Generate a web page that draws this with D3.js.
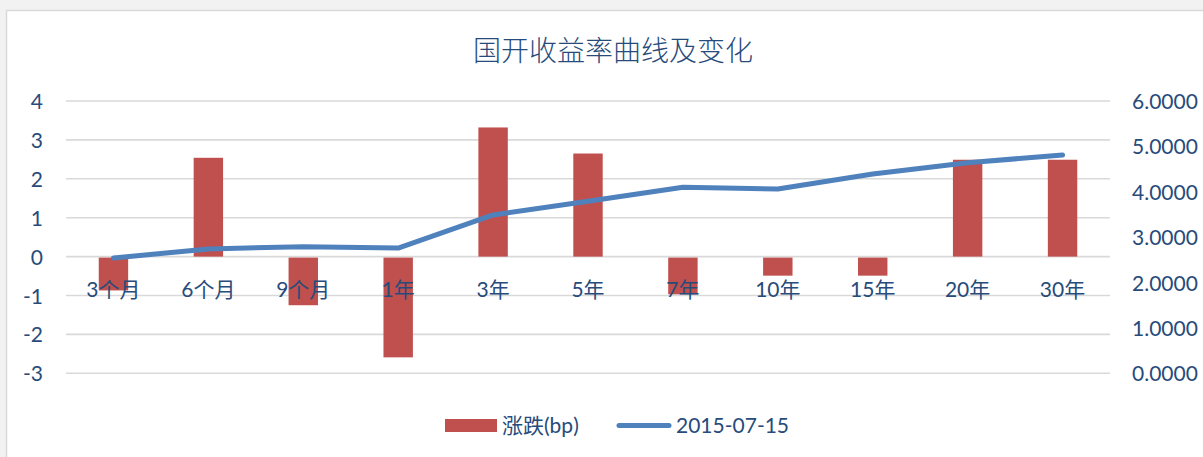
<!DOCTYPE html>
<html>
<head>
<meta charset="utf-8">
<script src="https://cdn.jsdelivr.net/npm/d3@7"></script>
<style>
  body { margin: 0; background: #f2f2f2; }
  svg { display: block; }
  text { font-family: "Lato", "Noto Sans CJK SC", sans-serif; fill: #274b7a; }
</style>
</head>
<body>
<svg id="chart" width="1203" height="457"></svg>
<script>
// data
var categories = ['3个月', '6个月', '9个月', '1年', '3年', '5年', '7年', '10年', '15年', '20年', '30年'];
var changeBp = [-0.87, 2.54, -1.25, -2.59, 3.32, 2.65, -0.97, -0.49, -0.49, 2.49, 2.49];
var yield20150715 = [2.54, 2.74, 2.79, 2.76, 3.49, 3.79, 4.10, 4.06, 4.39, 4.64, 4.81];
var leftTicks = [-3, -2, -1, 0, 1, 2, 3, 4];
var rightTicks = [0, 1, 2, 3, 4, 5, 6];
var title = '国开收益率曲线及变化';
var legendNames = ['涨跌(bp)', '2015-07-15'];

var barColor = '#c0504d';
var lineColor = '#4f81bd';

var svg = d3.select('#chart');

// chart frame
svg.append('rect')
    .attr('x', 7).attr('y', 11)
    .attr('width', 1203).attr('height', 457)
    .attr('fill', '#fff');
svg.append('line')
    .attr('x1', 6.5).attr('x2', 1203).attr('y1', 10.5).attr('y2', 10.5)
    .attr('stroke', '#d9d9d9').attr('stroke-width', 1.5);
svg.append('line')
    .attr('x1', 6.5).attr('x2', 6.5).attr('y1', 10.5).attr('y2', 457)
    .attr('stroke', '#d9d9d9').attr('stroke-width', 1.5);

var plot = { left: 66, right: 1110, top: 101, bottom: 373.3 };

var x = d3.scaleBand()
    .domain(categories)
    .range([plot.left, plot.right])
    .paddingInner(0.69)
    .paddingOuter(0.345);

var yLeft = d3.scaleLinear().domain([-3, 4]).range([plot.bottom, plot.top]);
var yRight = d3.scaleLinear().domain([0, 6]).range([plot.bottom, plot.top]);

function center(c) {
    return x(c) + x.bandwidth() / 2;
}

// plain hyphen minus, like the original
var fmtInt = d3.formatLocale({ decimal: '.', thousands: ',', grouping: [3], currency: ['', ''], minus: '-' }).format('d');

// title
svg.append('text')
    .attr('x', 613).attr('y', 61)
    .attr('text-anchor', 'middle')
    .style('font-family', '"Noto Sans CJK SC", sans-serif')
    .style('font-weight', 300)
    .style('font-size', '28px')
    .text(title);

// gridlines
svg.append('g')
    .selectAll('line')
    .data(leftTicks)
    .join('line')
        .attr('x1', plot.left).attr('x2', plot.right)
        .attr('y1', function (d) { return yLeft(d); })
        .attr('y2', function (d) { return yLeft(d); })
        .attr('stroke', '#d9d9d9')
        .attr('stroke-width', 1.6);

// left axis
var leftAxis = svg.append('g')
    .attr('transform', 'translate(43,0)')
    .call(d3.axisLeft(yLeft).tickValues(leftTicks).tickSize(0).tickPadding(0).tickFormat(fmtInt));
leftAxis.select('.domain').remove();
leftAxis.selectAll('text')
    .style('font-size', '21px')
    .attr('fill', null)
    .attr('dy', '0.36em');

// right axis
var rightAxis = svg.append('g')
    .attr('transform', 'translate(1132,0)')
    .call(d3.axisRight(yRight).tickValues(rightTicks).tickSize(0).tickPadding(0).tickFormat(d3.format('.4f')));
rightAxis.select('.domain').remove();
rightAxis.selectAll('text')
    .style('font-size', '21px')
    .attr('fill', null)
    .attr('dy', '0.36em');

// bars
svg.append('g')
    .selectAll('rect')
    .data(changeBp)
    .join('rect')
        .attr('x', function (d, i) { return x(categories[i]); })
        .attr('width', x.bandwidth())
        .attr('y', function (d) { return d >= 0 ? yLeft(d) : yLeft(0) + 1; })
        .attr('height', function (d) { return Math.abs(yLeft(d) - yLeft(0)) - (d >= 0 ? 0 : 1); })
        .attr('fill', barColor);

// line
var line = d3.line()
    .x(function (d, i) { return center(categories[i]); })
    .y(function (d) { return yRight(d); });

svg.append('path')
    .datum(yield20150715)
    .attr('d', line)
    .attr('fill', 'none')
    .attr('stroke', lineColor)
    .attr('stroke-width', 5)
    .attr('stroke-linecap', 'round')
    .attr('stroke-linejoin', 'round');

// category labels
svg.append('g')
    .selectAll('text')
    .data(categories)
    .join('text')
        .attr('x', center)
        .attr('y', 297)
        .attr('text-anchor', 'middle')
        .style('font-size', '21px')
        .text(function (d) { return d; });

// legend
var legend = svg.append('g');
legend.append('rect')
    .attr('x', 445).attr('y', 419)
    .attr('width', 52).attr('height', 13)
    .attr('fill', barColor);
legend.append('text')
    .attr('x', 502).attr('y', 433)
    .style('font-size', '21px')
    .text(legendNames[0]);
legend.append('line')
    .attr('x1', 619).attr('x2', 669)
    .attr('y1', 425.5).attr('y2', 425.5)
    .attr('stroke', lineColor)
    .attr('stroke-width', 5)
    .attr('stroke-linecap', 'round');
legend.append('text')
    .attr('x', 676).attr('y', 433)
    .style('font-size', '21px')
    .text(legendNames[1]);
</script>
</body>
</html>
